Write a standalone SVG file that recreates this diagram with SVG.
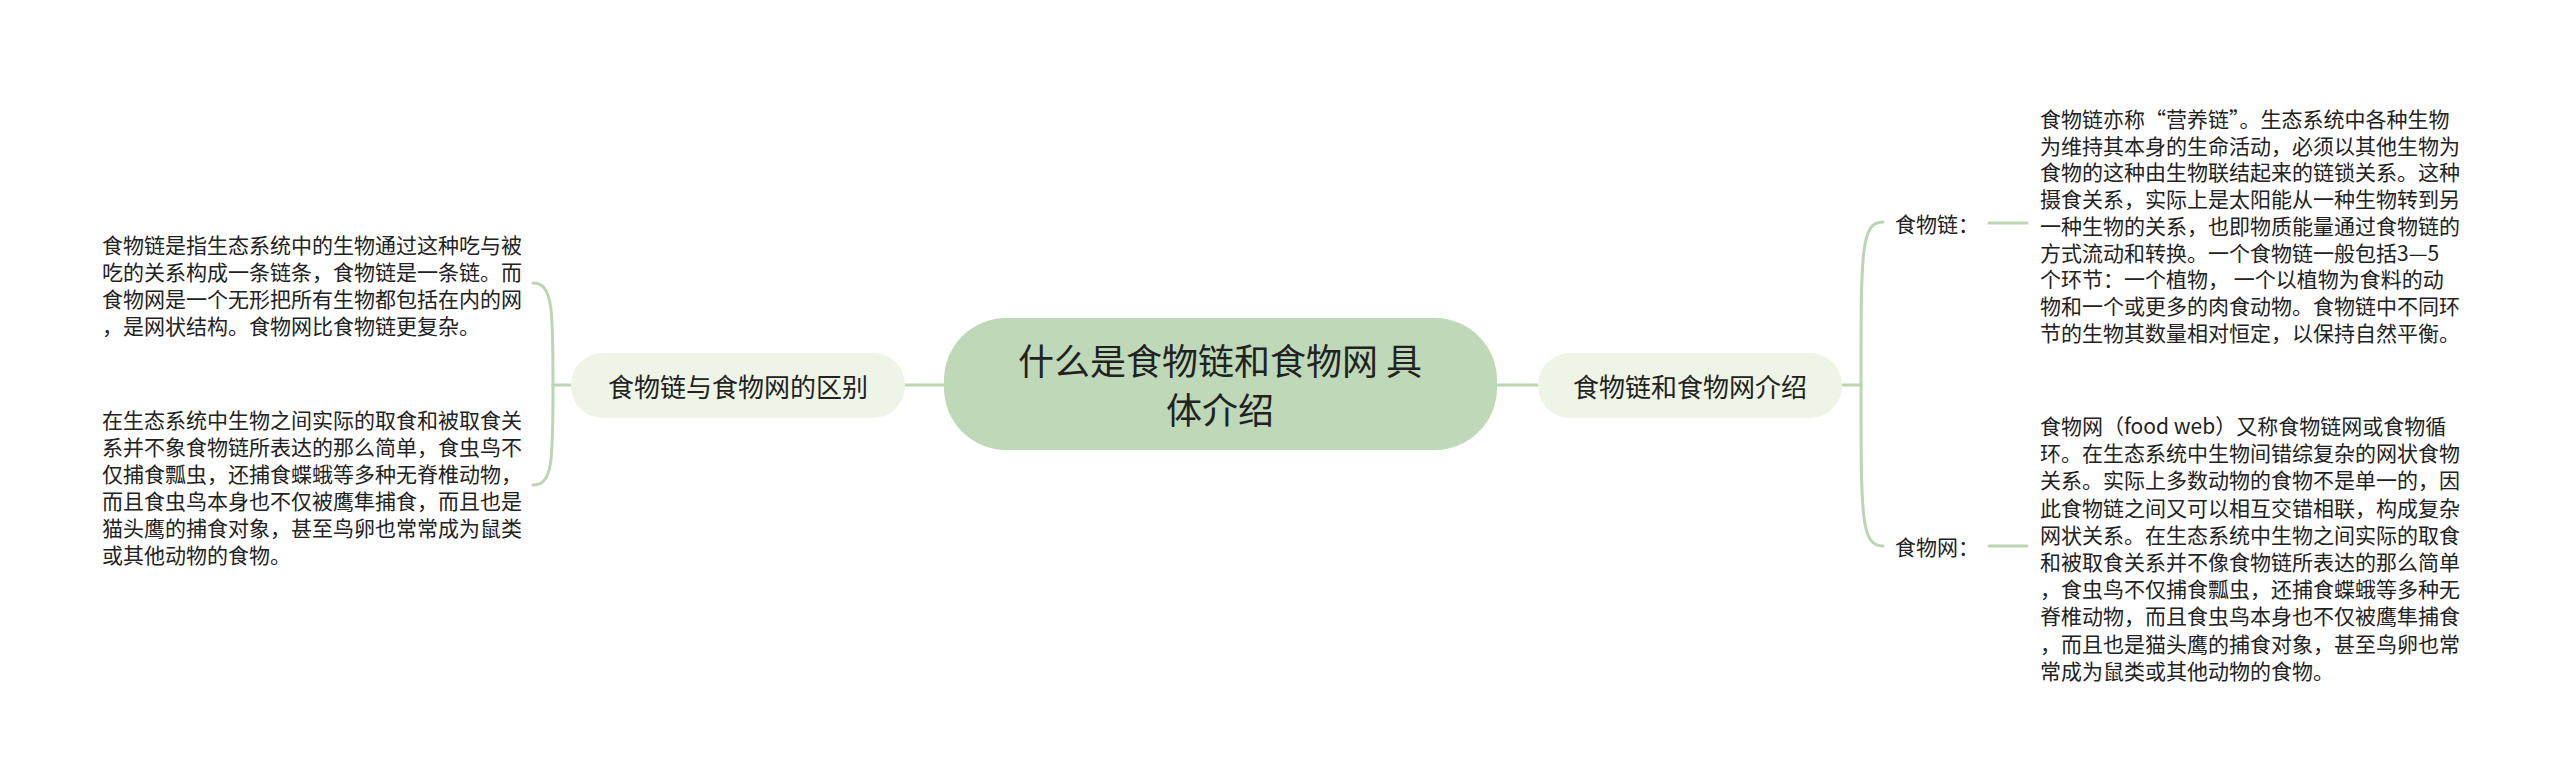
<svg xmlns="http://www.w3.org/2000/svg" width="2560" height="782" viewBox="0 0 2560 782">
<style>
.t{font-family:"Noto Sans CJK SC","Noto Sans",sans-serif;fill:#222;dominant-baseline:central}
.body{font-size:21px}
.lbl{font-size:21px}
.sec{font-size:26px;text-anchor:middle}
.root{font-size:36px;text-anchor:middle}
.ln{fill:none;stroke:#bcd5b3;stroke-width:3;stroke-linecap:round}
</style>
<rect width="2560" height="782" fill="#ffffff"/>
<g id="connectors">
<path class="ln" d="M905,385 L944,385"/>
<path class="ln" d="M1497,385 L1538,385"/>
<path class="ln" d="M571,385 L553,385"/>
<path class="ln" d="M553,385 C553,310 553,283 533,283"/>
<path class="ln" d="M553,385 C553,460 553,485 533,485"/>
<path class="ln" d="M1842,385 L1861,385"/>
<path class="ln" d="M1861,385 C1861,250 1861,222 1883,222"/>
<path class="ln" d="M1861,385 C1861,518 1861,546 1883,546"/>
<path class="ln" d="M1989,223 L2027,223"/>
<path class="ln" d="M1989,546 L2027,546"/>
</g>
<g id="root">
<rect x="944" y="318" width="553" height="132" rx="62" fill="#bfd8b8"/>
<text class="t root" x="1220" y="359">什么是食物链和食物网 具</text>
<text class="t root" x="1220" y="408">体介绍</text>
</g>
<g id="n-diff">
<rect x="571" y="353" width="334" height="65" rx="32" fill="#eef5e6"/>
<text class="t sec" x="738" y="385">食物链与食物网的区别</text>
</g>
<g id="n-intro">
<rect x="1538" y="353" width="304" height="65" rx="32" fill="#eef5e6"/>
<text class="t sec" x="1690" y="385">食物链和食物网介绍</text>
</g>
<g id="n-diff-1">
<text class="t body" x="102">
<tspan x="102" y="244">食物链是指生态系统中的生物通过这种吃与被</tspan>
<tspan x="102" y="271">吃的关系构成一条链条，食物链是一条链。而</tspan>
<tspan x="102" y="298">食物网是一个无形把所有生物都包括在内的网</tspan>
<tspan x="102" y="325">，是网状结构。食物网比食物链更复杂。</tspan>
</text>
</g>
<g id="n-diff-2">
<text class="t body" x="102">
<tspan x="102" y="419">在生态系统中生物之间实际的取食和被取食关</tspan>
<tspan x="102" y="446">系并不象食物链所表达的那么简单，食虫鸟不</tspan>
<tspan x="102" y="473">仅捕食瓢虫，还捕食蝶蛾等多种无脊椎动物，</tspan>
<tspan x="102" y="500">而且食虫鸟本身也不仅被鹰隼捕食，而且也是</tspan>
<tspan x="102" y="527">猫头鹰的捕食对象，甚至鸟卵也常常成为鼠类</tspan>
<tspan x="102" y="554">或其他动物的食物。</tspan>
</text>
</g>
<g id="n-chain">
<text class="t lbl" x="1895" y="223">食物链：</text>
</g>
<g id="n-chain-text">
<text class="t body" x="2040">
<tspan x="2040" y="118">食物链亦称“营养链”。生态系统中各种生物</tspan>
<tspan x="2040" y="144.7">为维持其本身的生命活动，必须以其他生物为</tspan>
<tspan x="2040" y="171.4">食物的这种由生物联结起来的链锁关系。这种</tspan>
<tspan x="2040" y="198.1">摄食关系，实际上是太阳能从一种生物转到另</tspan>
<tspan x="2040" y="224.8">一种生物的关系，也即物质能量通过食物链的</tspan>
<tspan x="2040" y="251.5">方式流动和转换。一个食物链一般包括3—5</tspan>
<tspan x="2040" y="278.2">个环节：一个植物， 一个以植物为食料的动</tspan>
<tspan x="2040" y="304.9">物和一个或更多的肉食动物。食物链中不同环</tspan>
<tspan x="2040" y="331.6">节的生物其数量相对恒定，以保持自然平衡。</tspan>
</text>
</g>
<g id="n-web">
<text class="t lbl" x="1895" y="546">食物网：</text>
</g>
<g id="n-web-text">
<text class="t body" x="2040">
<tspan x="2040" y="425">食物网（food web）又称食物链网或食物循</tspan>
<tspan x="2040" y="452.2">环。在生态系统中生物间错综复杂的网状食物</tspan>
<tspan x="2040" y="479.4">关系。实际上多数动物的食物不是单一的，因</tspan>
<tspan x="2040" y="506.6">此食物链之间又可以相互交错相联，构成复杂</tspan>
<tspan x="2040" y="533.8">网状关系。在生态系统中生物之间实际的取食</tspan>
<tspan x="2040" y="561">和被取食关系并不像食物链所表达的那么简单</tspan>
<tspan x="2040" y="588.2">，食虫鸟不仅捕食瓢虫，还捕食蝶蛾等多种无</tspan>
<tspan x="2040" y="615.4">脊椎动物，而且食虫鸟本身也不仅被鹰隼捕食</tspan>
<tspan x="2040" y="642.6">，而且也是猫头鹰的捕食对象，甚至鸟卵也常</tspan>
<tspan x="2040" y="669.8">常成为鼠类或其他动物的食物。</tspan>
</text>
</g>
</svg>
